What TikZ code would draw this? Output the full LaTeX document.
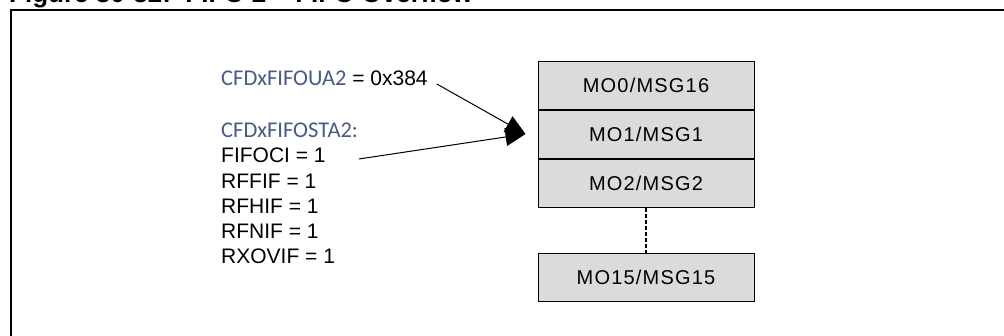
\documentclass[tikz,border=0pt]{standalone}
\usepackage{fontspec}
\setmainfont{Liberation Sans}
\newfontfamily\regfont{Carlito}
\newfontfamily\boxfont[LetterSpace=6]{Liberation Sans}
\usepackage{tikz}
\usetikzlibrary{arrows.meta}
\usetikzlibrary{positioning}
\definecolor{RegBlue}{rgb}{0.29,0.35,0.52}
\definecolor{BoxGray}{rgb}{0.86,0.86,0.86}

\tikzset{
  msgbox/.style={draw,fill=BoxGray,line width=1pt,minimum width=216pt,minimum height=48pt,inner sep=0pt,font=\boxfont\fontsize{20}{24}\selectfont},
  bitline/.style={anchor=west,inner sep=0pt,font=\fontsize{21}{25}\selectfont},
  regname/.style={RegBlue,font=\regfont\fontsize{22.5}{26}\selectfont},
  ptr/.style={line width=1pt,-{Triangle[length=20pt,width=18pt]}}
}

\begin{document}
\begin{tikzpicture}[x=1pt,y=-1pt]
      \useasboundingbox (0,0) rectangle (1004,335);
      \clip (0,0) rectangle (1004,335);
      % heading and frame
      \node[anchor=base west,inner sep=0pt,font=\bfseries\fontsize{26}{30}\selectfont] (title) at (9,2) {Figure 30-32:\ \ FIFO 2 -- FIFO Overflow};
      \draw[line width=2pt] (11,345) |- (1015,10);
      % message objects
      \node[msgbox] (mo0) at (646,85) {MO0/MSG16};
      \node[msgbox,below=0pt of mo0] (mo1) {MO1/MSG1};
      \node[msgbox,below=0pt of mo1] (mo2) {MO2/MSG2};
      \node[msgbox] (mo15) at (646,277) {MO15/MSG15};
      \draw[line width=2pt,dash pattern=on 4pt off 2pt] (mo2.south) -- (mo15.north);
      % register values
      \node[bitline] (ua) at (221,78) {\textcolor{RegBlue}{\regfont\fontsize{22.5}{26}\selectfont CFDxFIFOUA2} = 0x384};
      \node[bitline,regname] (sta) at (221,130) {CFDxFIFOSTA2:};
      \node[bitline] (fifoci) at (221,155) {FIFOCI = 1};
      \node[bitline] (rffif) at (221,181) {RFFIF = 1};
      \node[bitline] (rfhif) at (221,206) {RFHIF = 1};
      \node[bitline] (rfnif) at (221,231) {RFNIF = 1};
      \node[bitline] (rxovif) at (221,256) {RXOVIF = 1};
      % both point at the current message object
      \coordinate (tip) at ([xshift=-12pt]mo1.west);
      \draw[ptr] ([xshift=9pt,yshift=-6pt]ua.east) -- (tip);
      \draw[ptr] ([xshift=33pt,yshift=-4pt]fifoci.east) -- (tip);
    \end{tikzpicture}
\end{document}
